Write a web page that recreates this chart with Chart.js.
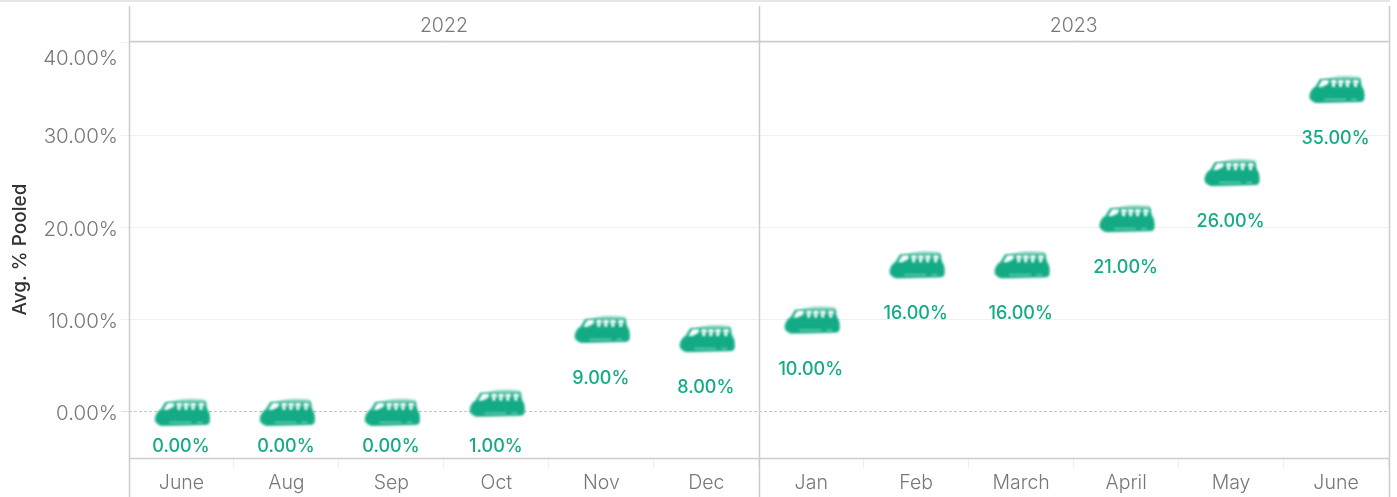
<!DOCTYPE html>
<html>
<head>
<meta charset="utf-8">
<title>Avg. % Pooled</title>
<script src="https://cdn.jsdelivr.net/npm/chart.js@4/dist/chart.umd.min.js"></script>
<style>
	html, body { margin: 0; padding: 0; background: #fff; overflow: hidden; }
	#wrap { position: relative; width: 1397px; height: 497px; }
	#strip { position: absolute; left: 0; top: 0; width: 1390px; height: 2px; background: #e6e6e6; }
</style>
</head>
<body>
<div id="wrap">
	<canvas id="myChart" width="1397" height="497"></canvas>
	<div id="strip"></div>
</div>
<script>
var years = ['2022', '2023'];
var months = ['June', 'Aug', 'Sep', 'Oct', 'Nov', 'Dec', 'Jan', 'Feb', 'March', 'April', 'May', 'June'];
var pooled = [0, 0, 0, 1, 9, 8, 10, 16, 16, 21, 26, 35];
var yTicks = [0, 10, 20, 30, 40];

var GREEN = '#13ab85';
var GREY = '#777777';
var FONT = 'Inter';

// the little bus that stands in for each point
function makeBus() {
	var c = document.createElement('canvas');
	c.width = 60;
	c.height = 34;
	var g = c.getContext('2d');
	g.filter = 'blur(0.8px)';
	g.translate(1, 0);
	// roof, paler than the body
	g.fillStyle = '#8fd6c3';
	g.beginPath();
	g.moveTo(13, 9);
	g.quadraticCurveTo(28, 2, 53, 5);
	g.lineTo(54, 10);
	g.closePath();
	g.fill();
	g.fillStyle = GREEN;
	g.beginPath();
	g.moveTo(5, 29);
	g.quadraticCurveTo(1, 26, 3, 21);
	g.quadraticCurveTo(5, 16, 8, 15);
	g.lineTo(13, 7);
	g.lineTo(53, 7);
	g.lineTo(55, 15);
	g.quadraticCurveTo(58, 18, 57.5, 26);
	g.quadraticCurveTo(57, 30, 53, 30);
	g.lineTo(10, 31);
	g.quadraticCurveTo(7, 31, 5, 29);
	g.fill();
	// windows
	g.fillStyle = '#ffffff';
	g.beginPath();
	g.moveTo(11, 15);
	g.lineTo(15, 8);
	g.lineTo(22, 8);
	g.lineTo(21, 12);
	g.lineTo(15, 15);
	g.fill();
	[24, 31, 38, 46].forEach(function(x) {
		g.fillRect(x, 8, 5.5, 3.5);
		g.fillRect(x + 1, 11, 3, 4);
	});
	// sill
	g.fillStyle = 'rgba(255,255,255,0.6)';
	g.fillRect(17, 27, 22, 1);
	g.fillRect(44, 27, 6, 1);
	return c;
}

var frameLines = {
	id: 'frameLines',
	afterDatasetsDraw: function(chart) {
		var x = chart.scales.x;
		var ctx = chart.ctx;
		ctx.save();
		ctx.strokeStyle = '#cccccc';
		ctx.lineWidth = 1.5;
		ctx.beginPath();
		[x.left, (x.left + x.right) / 2, x.right].forEach(function(px) {
			ctx.moveTo(Math.round(px) + 0.5, 6);
			ctx.lineTo(Math.round(px) + 0.5, 497);
		});
		ctx.moveTo(x.left, chart.chartArea.top + 0.5);
		ctx.lineTo(x.right, chart.chartArea.top + 0.5);
		ctx.moveTo(x.left, chart.chartArea.bottom + 0.5);
		ctx.lineTo(x.right, chart.chartArea.bottom + 0.5);
		ctx.stroke();
		ctx.restore();
	}
};

// percent labels sit under each bus, held inside the pane at the bottom
var valueLabels = {
	id: 'valueLabels',
	afterDatasetsDraw: function(chart) {
		var ctx = chart.ctx;
		var meta = chart.getDatasetMeta(0);
		ctx.save();
		ctx.font = '500 18px ' + FONT;
		ctx.fillStyle = GREEN;
		ctx.textAlign = 'center';
		ctx.textBaseline = 'middle';
		meta.data.forEach(function(pt, i) {
			var y = Math.min(pt.y + 49.5, chart.chartArea.bottom - 11);
			ctx.fillText(pooled[i].toFixed(2) + '%', pt.x - 0.5, y);
		});
		ctx.restore();
	}
};

var ctx = document.getElementById('myChart').getContext('2d');
var chart = new Chart(ctx, {
	type: 'line',
	plugins: [frameLines, valueLabels],
	data: {
		labels: months,
		datasets: [{
			label: 'Avg. % Pooled',
			data: pooled,
			xAxisID: 'x',
			yAxisID: 'y',
			showLine: false,
			pointStyle: makeBus(),
			clip: false
		}]
	},
	options: {
		responsive: false,
		animation: false,
		layout: { padding: { top: 0, right: 8.5, bottom: 0, left: 0 } },
		plugins: { legend: { display: false }, tooltip: { enabled: false } },
		scales: {
			x: {
				type: 'category',
				position: 'bottom',
				offset: true,
				afterFit: function(s) { s.height = 39; },
				grid: {
					offset: true,
					drawOnChartArea: false,
					color: '#eeeeee',
					tickLength: 10
				},
				border: { display: false },
				ticks: {
					color: GREY,
					font: { family: FONT, size: 19.5, weight: '300' },
					padding: 3,
					maxRotation: 0,
					autoSkip: false
				}
			},
			x2: {
				type: 'category',
				position: 'top',
				labels: years,
				offset: true,
				afterFit: function(s) { s.height = 41; },
				grid: { display: false },
				border: { display: false },
				ticks: {
					color: GREY,
					font: { family: FONT, size: 19.5, weight: '300' },
					padding: -5,
					maxRotation: 0
				}
			},
			y: {
				min: -5,
				max: 40.2,
				afterBuildTicks: function(s) {
					s.ticks = yTicks.map(function(v) { return { value: v }; });
				},
				afterFit: function(s) { s.width = 129; },
				grid: {
					color: function(c) { return c.tick && c.tick.value === 0 ? '#c4c4c4' : '#f0f0f0'; },
					tickColor: function(c) { return c.tick && c.tick.value === 0 ? '#dddddd' : '#f0f0f0'; },
					tickLength: 8
				},
				border: {
					display: false,
					dash: function(c) { return c.tick && c.tick.value === 0 ? [3, 2] : []; }
				},
				ticks: {
					color: GREY,
					// blank first line nudges the label down by half a line, the top one further
					font: function(c) {
						return { family: FONT, size: 20.5, weight: '300', lineHeight: c.tick && c.tick.value === 40 ? 1.55 : 0.2 };
					},
					padding: 3,
					callback: function(v) {
						return ['', v.toFixed(2) + '%'];
					}
				},
				title: {
					display: true,
					text: 'Avg. % Pooled',
					color: '#333333',
					font: { family: FONT, size: 19, weight: '500' },
					padding: { top: 9, bottom: 0 }
				}
			}
		}
	}
});
</script>
</body>
</html>
